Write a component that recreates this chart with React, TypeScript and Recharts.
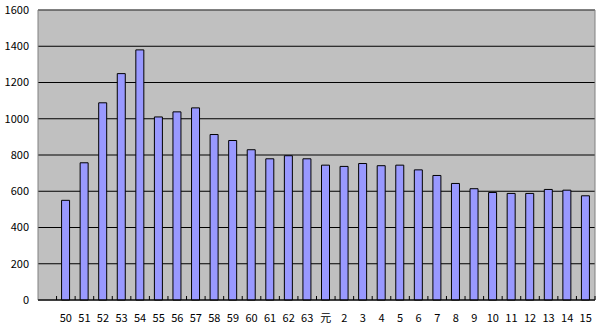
import { BarChart, Bar, XAxis, YAxis, CartesianGrid, ReferenceArea } from 'recharts';

// 年度ラベル（先頭は空の区分）
const years = ['', '50', '51', '52', '53', '54', '55', '56', '57', '58', '59', '60', '61', '62', '63',
  '元', '2', '3', '4', '5', '6', '7', '8', '9', '10', '11', '12', '13', '14', '15'];

const counts: (number | null)[] = [null, 550, 757, 1088, 1249, 1380, 1010, 1038, 1060, 913, 880, 829, 779, 796, 779,
  744, 737, 753, 741, 744, 718, 687, 643, 614, 593, 588, 588, 610, 606, 575];

const yTicks = [0, 200, 400, 600, 800, 1000, 1200, 1400, 1600];

const font = '"Noto Sans CJK JP", "DejaVu Sans", sans-serif';

const data = years.map((year, i) => ({ year, value: counts[i] }));

function XTick(props: any) {
  const { x, y, payload, width } = props;
  const band = (width || 557) / years.length;
  const bx = x + band / 2;
  return (
    <g>
      <line x1={bx} x2={bx} y1={y - 4} y2={y} stroke="#000" strokeWidth={1} />
      <text x={x} y={y + 22} textAnchor="middle" fontSize={11} fontFamily={font} fill="#000">
        {payload.value}
      </text>
    </g>
  );
}

export default function App() {
  return (
    <div style={{ position: 'absolute', left: 0, top: 0, background: '#fff' }}>
      <BarChart width={600} height={330} data={data} margin={{ top: 10, right: 5, bottom: 0, left: 0 }} barCategoryGap={0}>
        <CartesianGrid vertical={false} stroke="#000" fill="#C0C0C0" />
        <ReferenceArea y1={0} y2={1600} fill="none" stroke="#808080" strokeWidth={1} ifOverflow="visible" />
        <XAxis
          dataKey="year"
          interval={0}
          height={30}
          tickLine={false}
          tickSize={0}
          tickMargin={0}
          axisLine={{ stroke: '#000' }}
          tick={<XTick />}
        />
        <YAxis
          width={38}
          domain={[0, 1600]}
          ticks={yTicks}
          interval={0}
          axisLine={false}
          tickLine={false}
          tickSize={0}
          tickMargin={9}
          tick={{ fontSize: 11, fontFamily: font, fill: '#000' }}
        />
        <Bar dataKey="value" fill="#9999FF" stroke="#000" strokeWidth={1} barSize={8} isAnimationActive={false} />
      </BarChart>
    </div>
  );
}
